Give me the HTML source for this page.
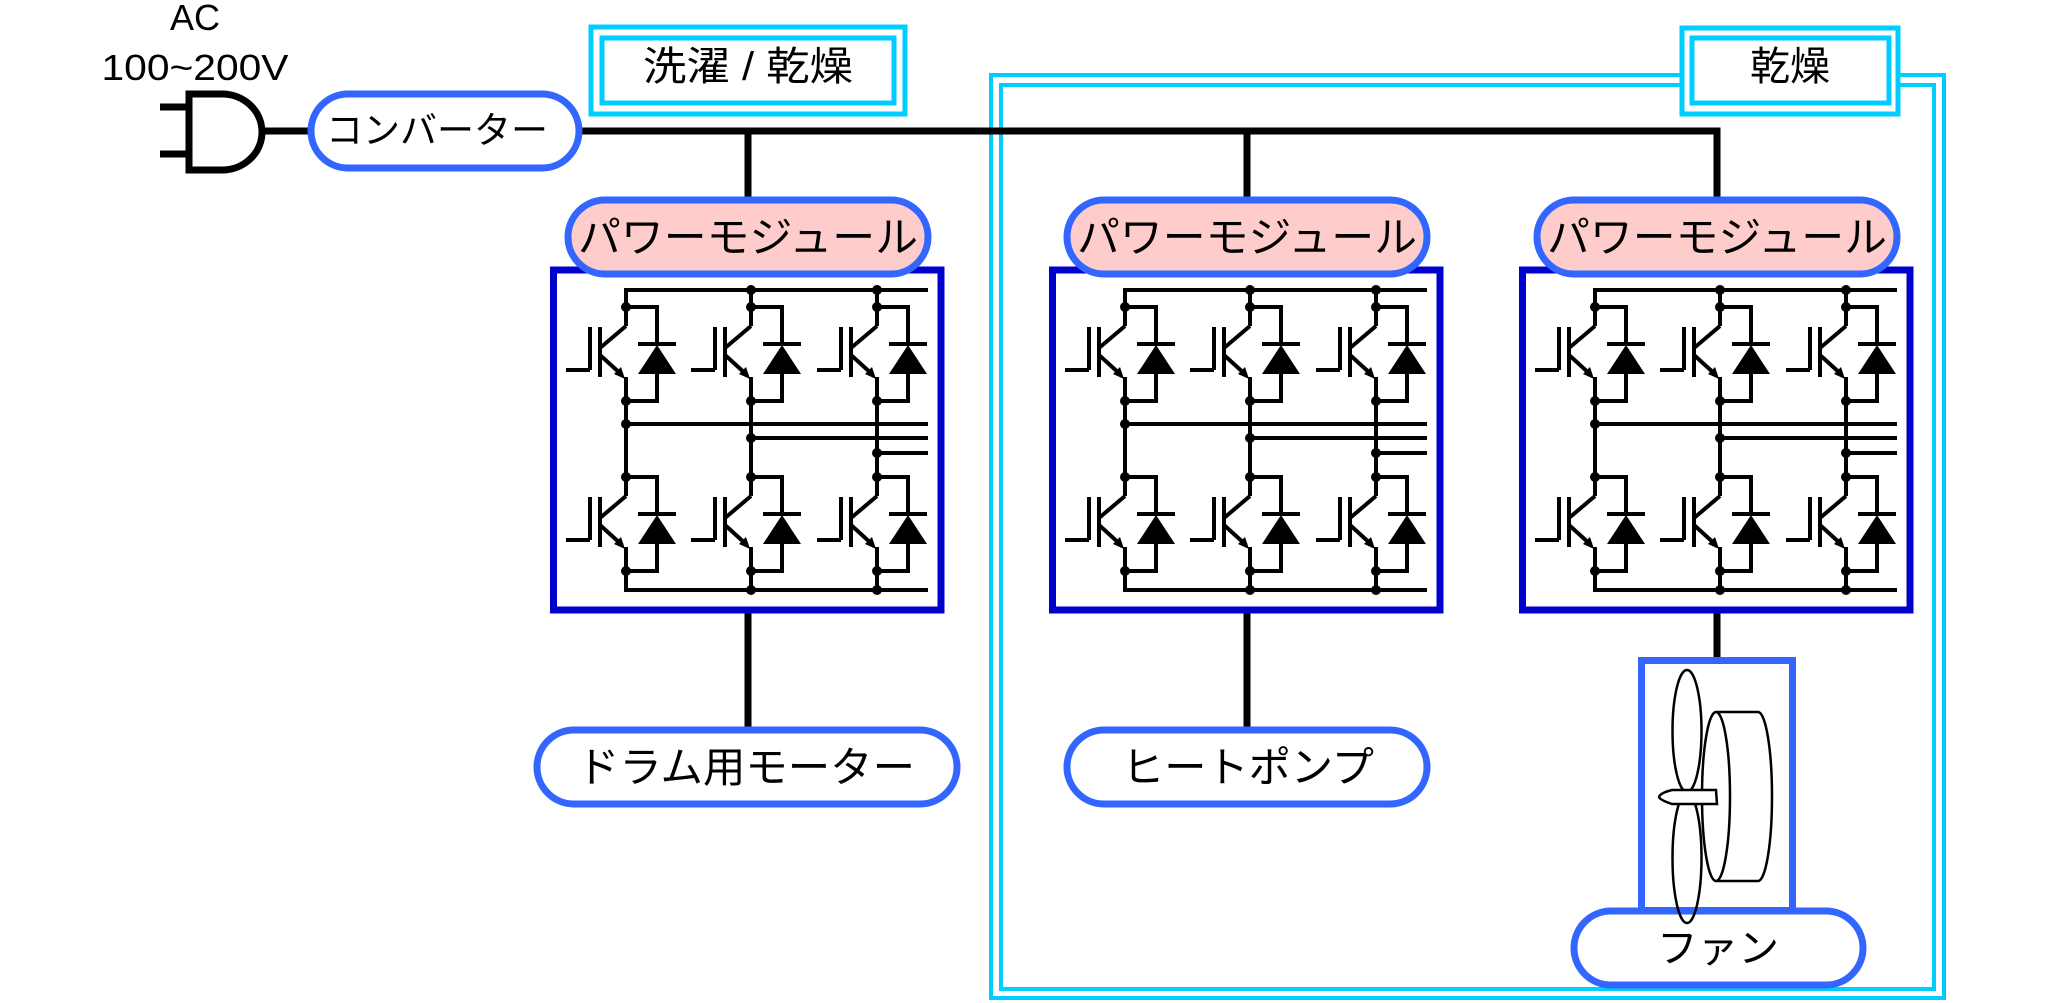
<!DOCTYPE html>
<html><head><meta charset="utf-8"><style>
html,body{margin:0;padding:0;background:#fff;}
svg{display:block;}
text{font-family:"Liberation Sans","Noto Sans CJK JP",sans-serif;fill:#000;}
</style></head><body>
<svg width="2048" height="1003" viewBox="0 0 2048 1003" xmlns="http://www.w3.org/2000/svg">
<defs>
<g id="cell" stroke="#000" stroke-width="4" fill="none">
  <circle cx="0" cy="0" r="5" fill="#000" stroke="none"/>
  <circle cx="0" cy="94" r="5" fill="#000" stroke="none"/>
  <polyline points="0,0 31,0 31,37"/>
  <line x1="12" y1="37" x2="50" y2="37"/>
  <polygon points="12,67 50,67 31,38" fill="#000" stroke="none"/>
  <polyline points="31,67 31,94 0,94"/>
  <line x1="0" y1="0" x2="0" y2="19"/>
  <line x1="-26" y1="20" x2="-26" y2="70"/>
  <line x1="-26" y1="41" x2="0" y2="19"/>
  <line x1="-26" y1="48" x2="-4" y2="68"/>
  <polygon points="-1,72 -12,67 -5,60" fill="#000" stroke="none"/>
  <line x1="0" y1="70" x2="0" y2="94"/>
  <line x1="-36" y1="20" x2="-36" y2="63"/>
  <line x1="-60" y1="63" x2="-36" y2="63"/>
</g>
<g id="mod">
  <rect x="553.5" y="270" width="387.5" height="340" fill="#fff" stroke="#0000cc" stroke-width="7"/>
  <g stroke="#000" stroke-width="4" fill="none">
    <polyline points="626,307 626,290 928,290"/>
    <line x1="751" y1="290" x2="751" y2="307"/>
    <line x1="877" y1="290" x2="877" y2="307"/>
    <line x1="626" y1="401" x2="626" y2="477"/>
    <line x1="751" y1="401" x2="751" y2="477"/>
    <line x1="877" y1="401" x2="877" y2="477"/>
    <line x1="626" y1="424" x2="928" y2="424"/>
    <line x1="751" y1="438" x2="928" y2="438"/>
    <line x1="877" y1="453" x2="928" y2="453"/>
    <polyline points="626,571 626,590 928,590"/>
    <line x1="751" y1="571" x2="751" y2="590"/>
    <line x1="877" y1="571" x2="877" y2="590"/>
  </g>
  <g fill="#000">
    <circle cx="751" cy="290" r="5"/><circle cx="877" cy="290" r="5"/>
    <circle cx="626" cy="424" r="5"/><circle cx="751" cy="438" r="5"/><circle cx="877" cy="453" r="5"/>
    <circle cx="751" cy="590" r="5"/><circle cx="877" cy="590" r="5"/>
  </g>
  <use href="#cell" x="626" y="307"/><use href="#cell" x="751" y="307"/><use href="#cell" x="877" y="307"/>
  <use href="#cell" x="626" y="477"/><use href="#cell" x="751" y="477"/><use href="#cell" x="877" y="477"/>
</g>
</defs>

<rect x="991" y="75" width="953" height="923" fill="none" stroke="#00ccff" stroke-width="4"/>
<rect x="1001" y="85" width="933" height="904" fill="none" stroke="#00ccff" stroke-width="4"/>

<text x="195" y="30" font-size="36" text-anchor="middle">AC</text>
<text x="195" y="80" font-size="36" text-anchor="middle" textLength="187" lengthAdjust="spacingAndGlyphs">100~200V</text>

<g stroke="#000" stroke-width="7" fill="none">
  <path d="M189,94 L222,94 A40,38 0 0 1 222,170 L189,170 Z"/>
  <line x1="160" y1="107" x2="189" y2="107"/>
  <line x1="160" y1="154" x2="189" y2="154"/>
  <line x1="262" y1="131" x2="310" y2="131"/>
</g>

<g stroke="#000" stroke-width="7" fill="none">
  <polyline points="578,131 1717,131 1717,200"/>
  <line x1="748" y1="131" x2="748" y2="200"/>
  <line x1="1247" y1="131" x2="1247" y2="200"/>
  <line x1="748" y1="610" x2="748" y2="730"/>
  <line x1="1247" y1="610" x2="1247" y2="730"/>
  <line x1="1717" y1="610" x2="1717" y2="660"/>
</g>

<rect x="311" y="94" width="268" height="74" rx="37" fill="#fff" stroke="#3366ff" stroke-width="7"/>
<text x="437" y="143" font-size="37" text-anchor="middle" textLength="222" lengthAdjust="spacingAndGlyphs">コンバーター</text>

<rect x="591" y="27" width="314" height="87" fill="#fff" stroke="#00ccff" stroke-width="5"/>
<rect x="602" y="38" width="292" height="65" fill="#fff" stroke="#00ccff" stroke-width="5"/>
<text x="748" y="80" font-size="40" text-anchor="middle" textLength="210" lengthAdjust="spacingAndGlyphs">洗濯 / 乾燥</text>
<rect x="1682" y="28" width="216" height="86" fill="#fff" stroke="#00ccff" stroke-width="5"/>
<rect x="1692" y="38" width="197" height="65" fill="#fff" stroke="#00ccff" stroke-width="5"/>
<text x="1790" y="80" font-size="40" text-anchor="middle">乾燥</text>

<use href="#mod"/>
<use href="#mod" x="499"/>
<use href="#mod" x="969"/>

<g fill="#ffcccc" stroke="#3366ff" stroke-width="7">
  <rect x="568" y="200" width="360" height="74" rx="37"/>
  <rect x="1067" y="200" width="360" height="74" rx="37"/>
  <rect x="1537" y="200" width="360" height="74" rx="37"/>
</g>
<g font-size="42" text-anchor="middle">
  <text x="748" y="252" textLength="340" lengthAdjust="spacingAndGlyphs">パワーモジュール</text>
  <text x="1247" y="252" textLength="340" lengthAdjust="spacingAndGlyphs">パワーモジュール</text>
  <text x="1717" y="252" textLength="340" lengthAdjust="spacingAndGlyphs">パワーモジュール</text>
</g>

<rect x="537" y="730" width="420" height="74" rx="37" fill="#fff" stroke="#3366ff" stroke-width="7"/>
<text x="746" y="782" font-size="42" text-anchor="middle" textLength="338" lengthAdjust="spacingAndGlyphs">ドラム用モーター</text>
<rect x="1067" y="730" width="360" height="74" rx="37" fill="#fff" stroke="#3366ff" stroke-width="7"/>
<text x="1248" y="782" font-size="42" text-anchor="middle" textLength="252" lengthAdjust="spacingAndGlyphs">ヒートポンプ</text>

<rect x="1641.5" y="660.5" width="151" height="250" fill="#fff" stroke="#3366ff" stroke-width="7"/>
<rect x="1574" y="911" width="289" height="74" rx="37" fill="#fff" stroke="#3366ff" stroke-width="7"/>
<text x="1718" y="962" font-size="40" text-anchor="middle" textLength="122" lengthAdjust="spacingAndGlyphs">ファン</text>
<g stroke="#000" stroke-width="2.5" fill="#fff">
  <path d="M1716,712 L1758,712 A14,84.5 0 0 1 1758,881 L1716,881"/>
  <ellipse cx="1716" cy="796.5" rx="14" ry="84.5"/>
  <ellipse cx="1687" cy="731" rx="14.5" ry="61" fill="none"/>
  <ellipse cx="1687" cy="858" rx="14.5" ry="65" fill="none"/>
  <path d="M1672,790 L1716,790 L1717,804 L1672,804 Q1660,800 1659,797 Q1660,793 1672,790 Z"/>
</g>
</svg>
</body></html>
